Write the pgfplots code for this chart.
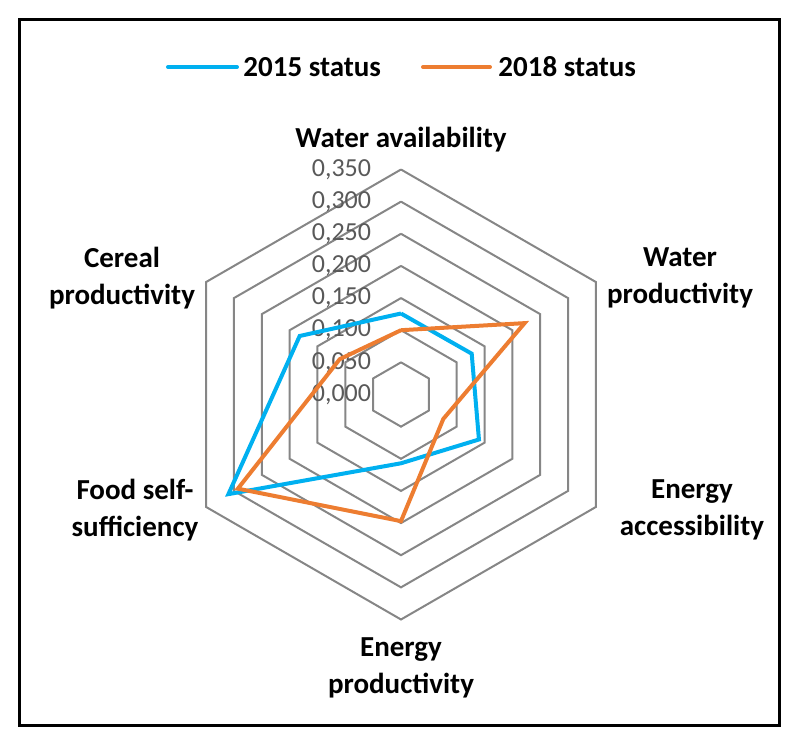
\documentclass[border=0pt]{standalone}
\usepackage{fontspec}
\setmainfont{Carlito}
\usepackage{pgfplots}
\pgfplotsset{compat=1.18}

\definecolor{s2015}{HTML}{00B0F0}
\definecolor{s2018}{HTML}{ED7D31}
\definecolor{gridgray}{HTML}{868686}
\definecolor{ticktext}{HTML}{595959}

\begin{document}
\begin{tikzpicture}
\begin{axis}[
  x=321.43pt, y=321.43pt,
  xmin=-0.35, xmax=0.35, ymin=-0.35, ymax=0.35,
  hide axis, clip=false,
]
\coordinate (O) at (axis cs:0,0);
% hexagonal grid
\pgfplotsinvokeforeach{0.05,0.10,0.15,0.20,0.25,0.30,0.35}{
  \addplot[gridgray, line width=1pt, data cs=polar, mark=none]
    coordinates {(90,#1) (30,#1) (-30,#1) (-90,#1) (210,#1) (150,#1) (90,#1)};
}
% radial tick labels
\pgfplotsinvokeforeach{0.000,0.050,0.100,0.150,0.200,0.250,0.300,0.350}{
  \node[anchor=east, inner sep=0pt, text=ticktext, font=\fontsize{13}{15}\selectfont]
    at (axis cs:-0.046,#1) {\pgfmathprintnumber[fixed, fixed zerofill, precision=3, use comma, assume math mode=true]{#1}};
}
% 2015 status
\addplot[s2015, line width=2pt, data cs=polar, mark=none] coordinates {
  (90,0.126) (30,0.127) (-30,0.140) (-90,0.107) (210,0.310) (150,0.182) (90,0.126)
};
% 2018 status
\addplot[s2018, line width=2pt, data cs=polar, mark=none] coordinates {
  (90,0.100) (30,0.222) (-30,0.076) (-90,0.197) (210,0.293) (150,0.110) (90,0.100)
};
\end{axis}

% pixel-like coordinates from the top-left corner: 1 unit = 0.5pt, y downward
\begin{scope}[shift={(O)}, x=0.5pt, y=-0.5pt, shift={(-401,-394.5)}]
\path (0,0) rectangle (800,745);
\draw[line width=1.25pt] (19.5,19.5) rectangle (779.5,725.5);

% legend
\draw[s2015, line width=2pt, line cap=round] (168,67) -- (237,67);
\node[anchor=west, inner sep=0pt, font=\bfseries\fontsize{14.5}{17}\selectfont] at (243,67) {2015 status};
\draw[s2018, line width=2pt, line cap=round] (423,67) -- (490,67);
\node[anchor=west, inner sep=0pt, font=\bfseries\fontsize{14.5}{17}\selectfont] at (498,67) {2018 status};

% category labels
\tikzset{cat/.style={align=center, inner sep=0pt, font=\bfseries\fontsize{14.5}{18.5}\selectfont}}
\node[cat] at (401,140) {Water availability};
\node[cat] at (680,278) {Water\\productivity};
\node[cat] at (692,510) {Energy\\accessibility};
\node[cat] at (401,668) {Energy\\productivity};
\node[cat] at (135,510) {Food self-\\sufficiency};
\node[cat] at (122,278) {Cereal\\productivity};
\end{scope}
\end{tikzpicture}
\end{document}
